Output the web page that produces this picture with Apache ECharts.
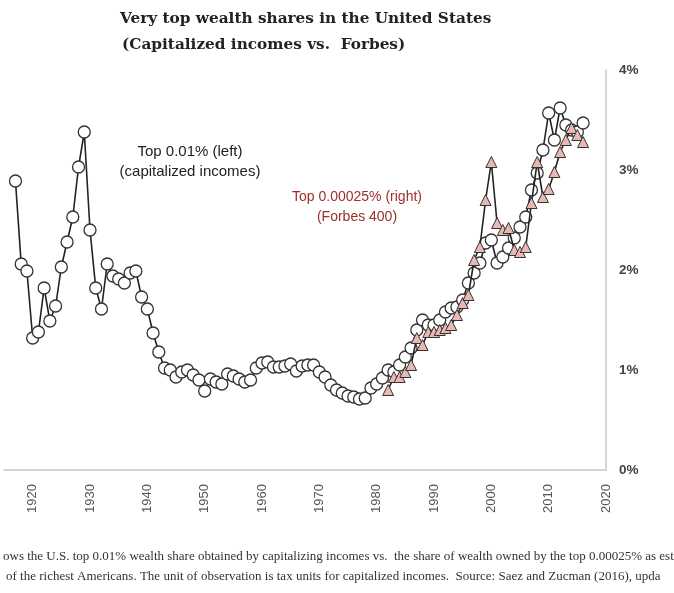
<!DOCTYPE html>
<html>
<head>
<meta charset="UTF-8">
<title>Very top wealth shares</title>
<script src="https://cdn.jsdelivr.net/npm/echarts@6/dist/echarts.min.js"></script>
<style>
  html, body { margin: 0; padding: 0; background: #fff; }
  #main { width: 674px; height: 593px; }
</style>
</head>
<body>
<div id="main"></div>
<script>
// top 0.01% (capitalized incomes), first year 1917
var capStart = 1917;
var capValues = [
  2.89, 2.06, 1.99, 1.32, 1.38, 1.82, 1.49, 1.64, 2.03, 2.28,   // 1917-1926
  2.53, 3.03, 3.38, 2.40, 1.82, 1.61, 2.06, 1.94, 1.91, 1.87,   // 1927-1936
  1.97, 1.99, 1.73, 1.61, 1.37, 1.18, 1.02, 1.00, 0.93, 0.98,   // 1937-1946
  1.00, 0.95, 0.90, 0.79, 0.91, 0.88, 0.86, 0.96, 0.94, 0.91,   // 1947-1956
  0.88, 0.90, 1.02, 1.07, 1.08, 1.03, 1.03, 1.04, 1.06, 0.99,   // 1957-1966
  1.04, 1.05, 1.05, 0.98, 0.93, 0.85, 0.80, 0.77, 0.74, 0.73,   // 1967-1976
  0.71, 0.72, 0.82, 0.86, 0.92, 1.00, 0.98, 1.05, 1.13, 1.22,   // 1977-1986
  1.40, 1.50, 1.45, 1.45, 1.50, 1.58, 1.62, 1.63, 1.70, 1.87,   // 1987-1996
  1.97, 2.07, 2.27, 2.30, 2.07, 2.13, 2.22, 2.32, 2.43, 2.53,   // 1997-2006
  2.80, 2.97, 3.20, 3.57, 3.30, 3.62, 3.45, 3.40, 3.38, 3.47    // 2007-2016
];

// top 0.00025% (Forbes 400), first year 1982
var forbesStart = 1982;
var forbesValues = [
  0.80, 0.93, 0.93, 0.98, 1.05, 1.32, 1.25, 1.38, 1.38, 1.40,   // 1982-1991
  1.42, 1.45, 1.55, 1.67, 1.75, 2.10, 2.23, 2.70, 3.08, 2.47,   // 1992-2001
  2.40, 2.42, 2.20, 2.18, 2.23, 2.67, 3.08, 2.73, 2.81, 2.98,   // 2002-2011
  3.18, 3.30, 3.42, 3.35, 3.28                                  // 2012-2016
];

var decadeLabels = [1920, 1930, 1940, 1950, 1960, 1970, 1980, 1990, 2000, 2010, 2020];
var shareTicks = [0, 1, 2, 3, 4];

function pairs(start, vals) {
  var out = [];
  for (var i = 0; i < vals.length; i++) out.push([start + i, vals[i]]);
  return out;
}

var myChart = echarts.init(document.getElementById('main'));

var titleFont = 'bold 15.3px "DejaVu Serif", serif';
var noteFont = '13px "Liberation Serif", serif';
var sans = '"Liberation Sans", Arial, sans-serif';

option = {
  animation: false,
  backgroundColor: '#fff',
  grid: { left: 4, right: 68, top: 70, bottom: 123 },
  xAxis: {
    type: 'value',
    min: 1915,
    max: 2020,
    interval: 5,
    axisLine: { show: true, lineStyle: { color: '#c8c8c8', width: 1.5 } },
    axisTick: { show: false },
    splitLine: { show: false },
    axisLabel: {
      rotate: 90,
      margin: 14,
      color: '#555',
      fontSize: 13,
      fontFamily: sans,
      formatter: function (v) {
        return decadeLabels.indexOf(v) >= 0 ? String(v) : '';
      }
    }
  },
  yAxis: {
    type: 'value',
    position: 'right',
    min: shareTicks[0],
    max: shareTicks[shareTicks.length - 1],
    interval: 1,
    axisLine: { show: true, lineStyle: { color: '#c8c8c8', width: 1.5 } },
    axisTick: { show: false },
    splitLine: { show: false },
    axisLabel: {
      margin: 13,
      color: '#444',
      fontSize: 13.5,
      fontWeight: 'bold',
      fontFamily: sans,
      formatter: '{value}%'
    }
  },
  series: [{
    name: 'Top 0.01%',
    type: 'line',
    data: pairs(capStart, capValues),
    symbol: 'circle',
    symbolSize: 12,
    lineStyle: { color: '#222', width: 1.6 },
    itemStyle: { color: '#fff', borderColor: '#333', borderWidth: 1.3 },
    z: 2
  }, {
    name: 'Top 0.00025%',
    type: 'line',
    data: pairs(forbesStart, forbesValues),
    symbol: 'triangle',
    symbolSize: 11,
    lineStyle: { color: '#222', width: 1.6 },
    itemStyle: { color: '#e9b8b3', borderColor: '#333', borderWidth: 1 },
    z: 3
  }],
  graphic: [
    { type: 'text', x: 120, y: 19, style: { text: 'Very top wealth shares in the United States', font: titleFont, fill: '#222', verticalAlign: 'middle' } },
    { type: 'text', x: 122, y: 45, style: { text: '(Capitalized incomes vs.  Forbes)', font: titleFont, fill: '#222', verticalAlign: 'middle' } },
    { type: 'text', x: 190, y: 152, style: { text: 'Top 0.01% (left)', font: '15px ' + sans, fill: '#222', align: 'center', verticalAlign: 'middle' } },
    { type: 'text', x: 190, y: 172, style: { text: '(capitalized incomes)', font: '15px ' + sans, fill: '#222', align: 'center', verticalAlign: 'middle' } },
    { type: 'text', x: 357, y: 197, style: { text: 'Top 0.00025% (right)', font: '14px ' + sans, fill: '#9b2f2b', align: 'center', verticalAlign: 'middle' } },
    { type: 'text', x: 357, y: 217, style: { text: '(Forbes 400)', font: '14px ' + sans, fill: '#9b2f2b', align: 'center', verticalAlign: 'middle' } },
    { type: 'text', x: 3, y: 557, style: { text: 'ows the U.S. top 0.01% wealth share obtained by capitalizing incomes vs.  the share of wealth owned by the top 0.00025% as est', font: noteFont, fill: '#333', verticalAlign: 'middle' } },
    { type: 'text', x: 6, y: 577, style: { text: 'of the richest Americans. The unit of observation is tax units for capitalized incomes.  Source: Saez and Zucman (2016), upda', font: noteFont, fill: '#333', verticalAlign: 'middle' } }
  ]
};

myChart.setOption(option);
</script>
</body>
</html>
